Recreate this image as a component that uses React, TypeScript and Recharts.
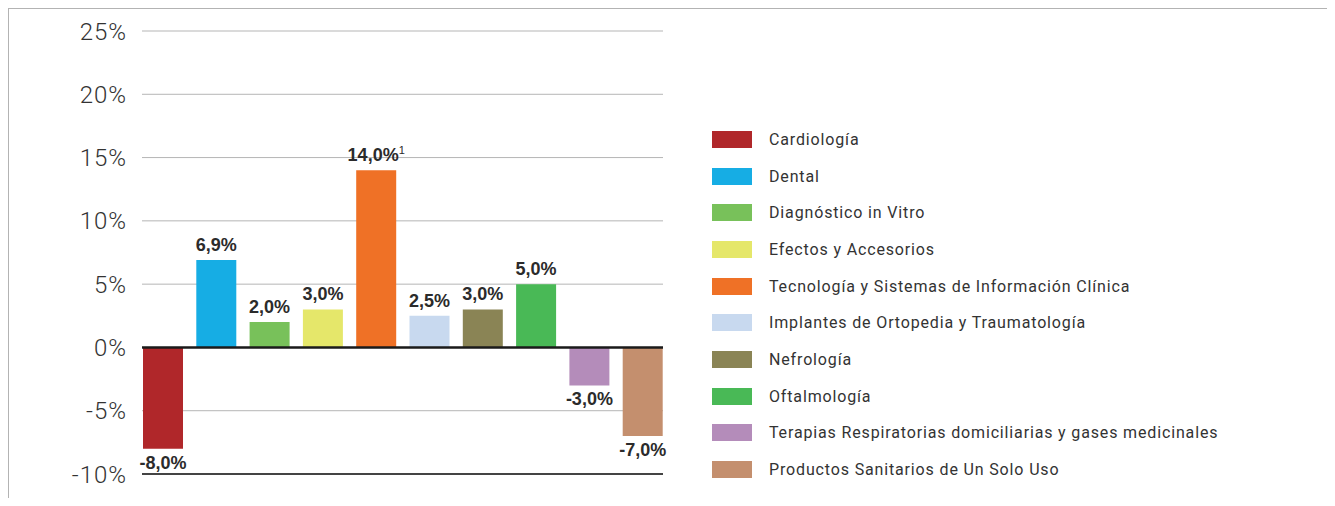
import { BarChart, Bar, XAxis, YAxis, CartesianGrid, ReferenceLine, Cell, LabelList } from "recharts";

const categories = [
  "Cardiología",
  "Dental",
  "Diagnóstico in Vitro",
  "Efectos y Accesorios",
  "Tecnología y Sistemas de Información Clínica",
  "Implantes de Ortopedia y Traumatología",
  "Nefrología",
  "Oftalmología",
  "Terapias Respiratorias domiciliarias y gases medicinales",
  "Productos Sanitarios de Un Solo Uso",
];

const values = [-8.0, 6.9, 2.0, 3.0, 14.0, 2.5, 3.0, 5.0, -3.0, -7.0];

const footnotes = ["", "", "", "", "1", "", "", "", "", ""];

const colors = [
  "#b0272a",
  "#16ade4",
  "#78c15a",
  "#e5e76a",
  "#ef7126",
  "#c8d9ef",
  "#8a8455",
  "#49b956",
  "#b48cba",
  "#c48f6e",
];

const yTicks = [-10, -5, 0, 5, 10, 15, 20, 25];

const data = categories.map((name, i) => ({ name, value: values[i], note: footnotes[i] }));

const fmt = (v: number) => `${v.toFixed(1).replace(".", ",")}%`;

const LABEL_FONT = "'Liberation Sans Narrow', 'Arial Narrow', 'Liberation Sans', sans-serif";

function ValueLabel(props: any) {
  const { x, y, width, height, value, index } = props;
  const top = Math.min(y, y + height);
  const bottom = Math.max(y, y + height);
  const cx = x + width / 2;
  const note = footnotes[index];
  const ty = value >= 0 ? top - 9 : bottom + 20;
  return (
    <text
      x={cx}
      y={ty}
      textAnchor="middle"
      fill="#2b2b2b"
      fontFamily={LABEL_FONT}
      fontWeight={700}
      fontSize={18}
    >
      {fmt(value)}
      {note ? (
        <tspan fontSize={11} fontWeight={400} fill="#2b2b2b" dy={-7}>
          {note}
        </tspan>
      ) : null}
    </text>
  );
}

function SideLegend() {
  return (
    <div
      style={{
        position: "absolute",
        left: 703,
        top: 112,
        fontFamily: "Roboto, sans-serif",
        fontSize: 16,
        letterSpacing: 0.85,
        color: "#333",
      }}
    >
      {categories.map((c, i) => (
        <div key={c} style={{ display: "flex", alignItems: "center", height: 36.7 }}>
          <span style={{ width: 40, height: 17, background: colors[i], display: "inline-block" }} />
          <span style={{ marginLeft: 17 }}>{c}</span>
        </div>
      ))}
    </div>
  );
}

export default function App() {
  return (
    <div
      style={{
        position: "relative",
        width: 1326,
        height: 489,
        borderTop: "1px solid #b3b3b3",
        borderLeft: "1px solid #b3b3b3",
        background: "#fff",
      }}
    >
      <BarChart
        width={680}
        height={489}
        data={data}
        margin={{ top: 22, right: 26, bottom: 24, left: 0 }}
      >
        <CartesianGrid vertical={false} stroke="#b5b5b5" strokeWidth={1} />
        <XAxis dataKey="name" hide padding={{ left: -6, right: -6 }} />
        <YAxis
          domain={[-10, 25]}
          ticks={yTicks}
          width={133}
          axisLine={false}
          tickLine={false}
          tickSize={0}
          tickMargin={15}
          tickFormatter={(v: number) => `${v}%`}
          tick={{
            fill: "#333",
            fontSize: 24,
            fontFamily: "Roboto, sans-serif",
            fontWeight: 300,
            letterSpacing: 1,
          }}
        />
        <ReferenceLine y={-10} stroke="#444" strokeWidth={2} />
        <Bar dataKey="value" barSize={40} isAnimationActive={false}>
          {data.map((d, i) => (
            <Cell key={d.name} fill={colors[i]} />
          ))}
          <LabelList dataKey="value" content={<ValueLabel />} />
        </Bar>
        <ReferenceLine y={0} stroke="#1a1a1a" strokeWidth={2.5} />
      </BarChart>
      <SideLegend />
    </div>
  );
}
